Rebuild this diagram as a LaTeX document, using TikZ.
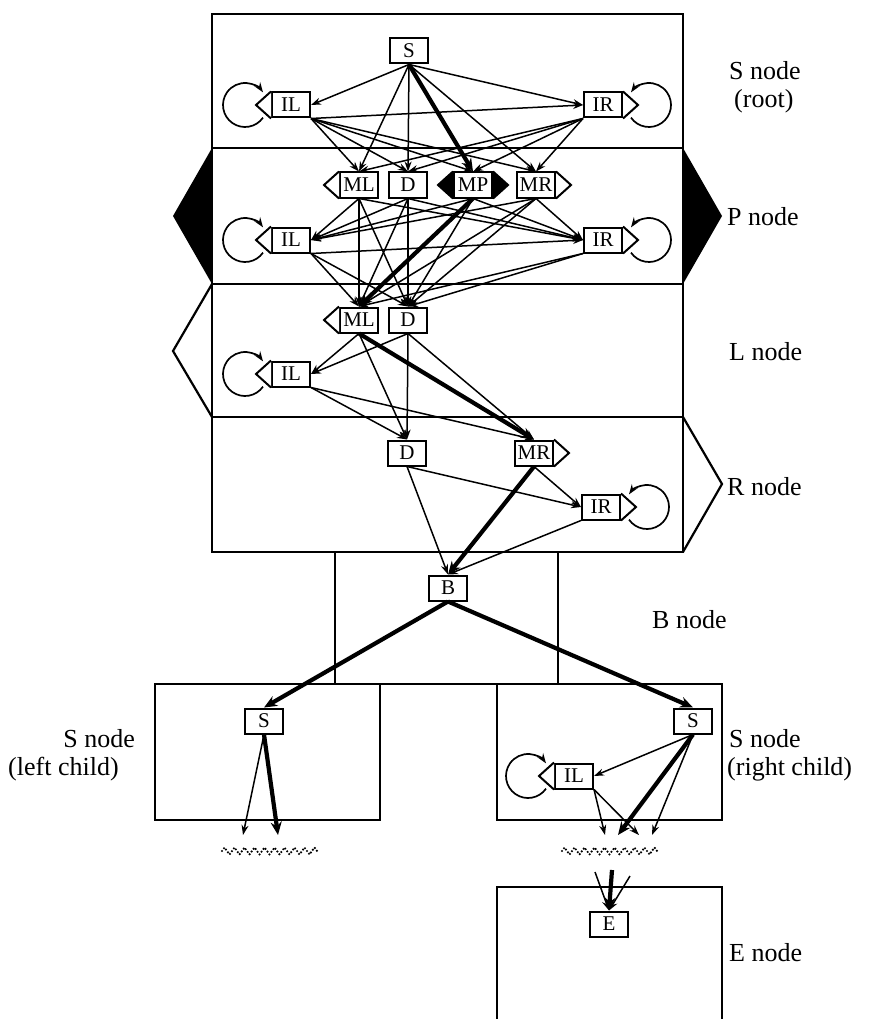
\documentclass[tikz,border=0pt]{standalone}
\usepackage{fontspec}
\setmainfont{Liberation Serif}
\usetikzlibrary{arrows.meta,calc,decorations.pathmorphing}
\tikzset{
 st/.style={draw, line width=2pt, fill=white, minimum width=38pt, minimum height=25pt, inner sep=0pt, font=\fontsize{21}{21}\selectfont},
 ed/.style={line width=1.5pt, -{Stealth[length=10pt,width=7pt]}},
 thk/.style={line width=4.2pt, -{Stealth[length=13pt,width=11pt]}},
 frame/.style={line width=2.2pt, line join=miter},
 lab/.style={font=\fontsize{26}{28}\selectfont, inner sep=0pt},
 loopl/.style={line width=1.7pt, -{Stealth[length=10pt,width=7pt]}},
 wavy/.style={line width=2.4pt, line cap=round, dash pattern=on 0pt off 3.4pt, decorate, decoration={zigzag, segment length=10pt, amplitude=3.5pt}}
}
\newcommand\lefttri[2]{\draw[line width=2pt, fill=#2, line join=miter] (#1.north west) -- ($(#1.west)+(-15,0)$) -- (#1.south west);}
\newcommand\righttri[2]{\draw[line width=2pt, fill=#2, line join=miter] (#1.north east) -- ($(#1.east)+(15,0)$) -- (#1.south east);}
\newcommand\loopleft[1]{\draw[loopl] ($(#1.west)+(-26,0)+(35:22)$) arc[start angle=35,end angle=325,radius=22];}
\newcommand\loopright[1]{\draw[loopl] ($(#1.east)+(26,0)+(145:22)$) arc[start angle=145,end angle=-145,radius=22];}
\begin{document}
\begin{tikzpicture}[x=1pt,y=-1pt]
\useasboundingbox (0,0) rectangle (881,1019);
% frames
\draw[frame] (212,14) rectangle (683,552);
\draw[frame] (212,148) -- (683,148);
\draw[frame] (212,284) -- (683,284);
\draw[frame] (212,417) -- (683,417);
\fill (212,148) -- (173,216) -- (212,284) -- cycle;
\fill (683,148) -- (722,216) -- (683,284) -- cycle;
\draw[frame] (212,284) -- (173,351) -- (212,417);
\draw[frame] (683,417) -- (722,484) -- (683,552);
\draw[line width=1.5pt] (335,552) -- (335,684);
\draw[line width=1.5pt] (558,552) -- (558,684);
\draw[frame] (155,684) -- (722,684);
\draw[frame] (155,684) rectangle (380,820);
\draw[frame] (497,684) rectangle (722,820);
\draw[frame] (497,1019) -- (497,887) -- (722,887) -- (722,1019);
% labels
\node[lab, anchor=west] (l1) at (729,71) {S node};
\node[lab, anchor=west] (l2) at (734,101) {(root)};
\node[lab, anchor=west] (l3) at (727,217) {P node};
\node[lab, anchor=west] (l4) at (729,352) {L node};
\node[lab, anchor=west] (l5) at (727,487) {R node};
\node[lab, anchor=west] (l6) at (652,620) {B node};
\node[lab, anchor=east] (l7) at (135,739) {S node};
\node[lab, anchor=west] (l8) at (8,769) {(left child)};
\node[lab, anchor=west] (l9) at (729,739) {S node};
\node[lab, anchor=west] (l10) at (727,769) {(right child)};
\node[lab, anchor=west] (l11) at (729,953) {E node};
% states
\node[st] (S) at (409,51) {S};
\node[st] (ILr) at (291,105) {IL};
\node[st] (IRr) at (603,105) {IR};
\node[st] (MLp) at (359,185) {ML};
\node[st] (Dp) at (408,185) {D};
\node[st] (MPp) at (473,185) {MP};
\node[st] (MRp) at (536,185) {MR};
\node[st] (ILp) at (291,240) {IL};
\node[st] (IRp) at (603,240) {IR};
\node[st] (MLl) at (359,320) {ML};
\node[st] (Dl) at (408,320) {D};
\node[st] (ILl) at (291,374) {IL};
\node[st] (Dr) at (407,453) {D};
\node[st] (MRr) at (534,453) {MR};
\node[st] (IRq) at (601,507) {IR};
\node[st] (B) at (448,588) {B};
\node[st] (SL) at (264,721) {S};
\node[st] (SR) at (693,721) {S};
\node[st] (ILc) at (574,776) {IL};
\node[st] (E) at (609,924) {E};
% triangles
\lefttri{ILr}{white} \righttri{IRr}{white}
\lefttri{MLp}{white} \lefttri{MPp}{black} \righttri{MPp}{black} \righttri{MRp}{white}
\lefttri{ILp}{white} \righttri{IRp}{white}
\lefttri{MLl}{white} \lefttri{ILl}{white}
\righttri{MRr}{white} \righttri{IRq}{white}
\lefttri{ILc}{white}
% loops
\loopleft{ILr} \loopright{IRr}
\loopleft{ILp} \loopright{IRp}
\loopleft{ILl} \loopright{IRq}
\loopleft{ILc}
% root edges
\draw[ed] (S.south) -- (ILr.east);
\draw[ed] (S.south) -- (IRr.west);
\foreach \t in {MLp,Dp,MRp} \draw[ed] (S.south) -- (\t.north);
\draw[thk] (S.south) -- (MPp.north);
\draw[ed] (ILr.south east) -- (IRr.west);
\foreach \t in {MLp,Dp,MPp,MRp} {
  \draw[ed] (ILr.south east) -- (\t.north);
  \draw[ed] (IRr.south west) -- (\t.north);
}
% P edges
\foreach \s in {MLp,Dp,MPp,MRp} {
  \draw[ed] (\s.south) -- (ILp.east);
  \draw[ed] (\s.south) -- (IRp.west);
  \draw[ed] (\s.south) -- (Dl.north);
}
\foreach \s in {MLp,Dp,MRp} \draw[ed] (\s.south) -- (MLl.north);
\draw[thk] (MPp.south) -- (MLl.north);
\draw[ed] (ILp.south east) -- (IRp.west);
\foreach \t in {MLl,Dl} {
  \draw[ed] (ILp.south east) -- (\t.north);
  \draw[ed] (IRp.south west) -- (\t.north);
}
% L edges
\draw[ed] (MLl.south) -- (ILl.east);
\draw[ed] (Dl.south) -- (ILl.east);
\draw[ed] (MLl.south) -- (Dr.north);
\draw[thk] (MLl.south) -- (MRr.north);
\draw[ed] (Dl.south) -- (Dr.north);
\draw[ed] (Dl.south) -- (MRr.north);
\draw[ed] (ILl.south east) -- (Dr.north);
\draw[ed] (ILl.south east) -- (MRr.north);
% R edges
\draw[ed] (Dr.south) -- (IRq.west);
\draw[ed] (MRr.south) -- (IRq.west);
\draw[ed] (Dr.south) -- (B.north);
\draw[thk] (MRr.south) -- (B.north);
\draw[ed] (IRq.south west) -- (B.north);
% B edges
\draw[thk] (B.south) -- (SL.north);
\draw[thk] (B.south) -- (SR.north);
% children
\coordinate (cL1) at (243,835);
\coordinate (cL2) at (278,835);
\coordinate (cR1) at (605,835);
\coordinate (cR2) at (618,835);
\coordinate (cR3) at (639,835);
\coordinate (cR4) at (652,835);
\draw[ed] (SL.south) -- (cL1);
\draw[thk] (SL.south) -- (cL2);
\draw[ed] (SR.south) -- (ILc.east);
\draw[thk] (SR.south) -- (cR2);
\draw[ed] (SR.south) -- (cR4);
\draw[ed] (ILc.south east) -- (cR1);
\draw[ed] (ILc.south east) -- (cR3);
\draw[wavy] (222,851) -- (318,851);
\draw[wavy] (562,851) -- (658,851);
% E
\coordinate (e1) at (595,872);
\coordinate (e2) at (612,870);
\coordinate (e3) at (630,876);
\draw[ed] (e1) -- (E.north);
\draw[ed] (e3) -- (E.north);
\draw[thk] (e2) -- (E.north);
\end{tikzpicture}
\end{document}
